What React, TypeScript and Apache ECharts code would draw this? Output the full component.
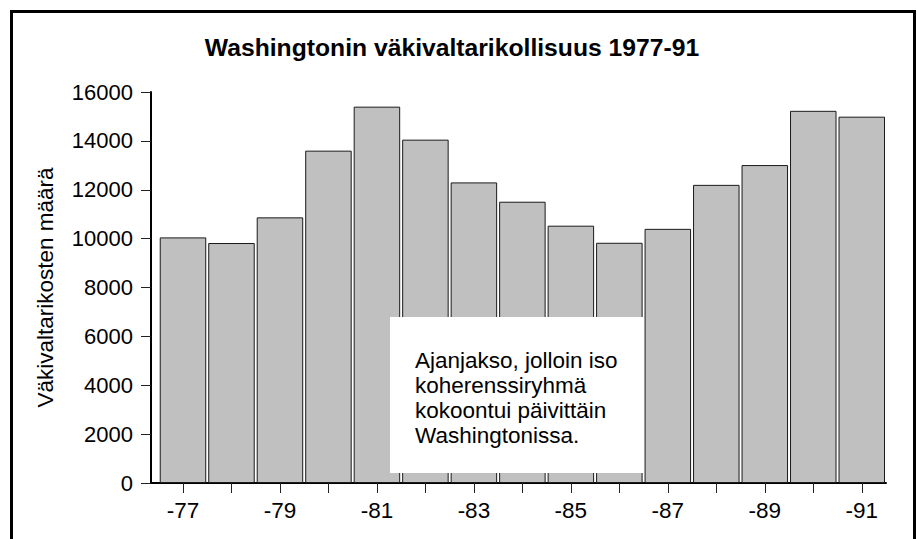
import React, { useEffect, useRef } from "react";
import * as echarts from "echarts";

const years = [1977, 1978, 1979, 1980, 1981, 1982, 1983, 1984, 1985, 1986, 1987, 1988, 1989, 1990, 1991];
const crimes = [10050, 9820, 10870, 13600, 15400, 14050, 12300, 11510, 10530, 9830, 10400, 12200, 13010, 15230, 14990];
const labelYears = [1977, 1979, 1981, 1983, 1985, 1987, 1989, 1991];
const titleText = "Washingtonin väkivaltarikollisuus 1977-91";
const yAxisTitle = "Väkivaltarikosten määrä";
const noteLines = ["Ajanjakso, jolloin iso", "koherenssiryhmä", "kokoontui päivittäin", "Washingtonissa."];

const FONT = "'Liberation Sans', Arial, Helvetica, sans-serif";

export default function App() {
  const ref = useRef<HTMLDivElement>(null);
  useEffect(() => {
    if (!ref.current) return;
    const chart = echarts.init(ref.current, null, { renderer: "svg" });
    chart.setOption({
      animation: false,
      backgroundColor: "#ffffff",
      textStyle: { fontFamily: FONT },
      title: {
        text: titleText,
        left: 447,
        top: 30,
        textAlign: "center",
        textStyle: { fontFamily: FONT, fontSize: 24.7, fontWeight: "bold", color: "#000" },
      },
      grid: { left: 151, top: 92, width: 735, height: 391, containLabel: false },
      xAxis: {
        type: "value",
        min: 1976.34,
        max: 1991.5,
        splitLine: { show: false },
        axisLine: { show: true, onZero: false, lineStyle: { color: "#000", width: 2 } },
        axisTick: { show: true, customValues: years, length: 10, lineStyle: { color: "#222", width: 1 } },
        axisLabel: {
          show: true,
          customValues: labelYears,
          margin: 16,
          fontSize: 22.5,
          fontFamily: FONT,
          color: "#000",
          formatter: (v: number) => "-" + String(Math.round(v)).slice(2),
        },
      },
      yAxis: {
        type: "value",
        min: 0,
        max: 16000,
        interval: 2000,
        name: yAxisTitle,
        nameLocation: "middle",
        nameGap: 94,
        nameTextStyle: { fontSize: 22.5, fontFamily: FONT, color: "#000", padding: [0, 0, 0, 0] },
        splitLine: { show: false },
        axisLine: { show: true, lineStyle: { color: "#000", width: 2 } },
        axisTick: { show: true, length: 10, lineStyle: { color: "#222", width: 1 } },
        axisLabel: {
          margin: 18,
          fontSize: 22,
          fontFamily: FONT,
          color: "#000",
          formatter: (v: number) => String(v),
        },
      },
      series: [
        {
          type: "bar",
          data: years.map((y, i) => [y, crimes[i]]),
          barWidth: 46.5,
          itemStyle: { color: "#c0c0c0", borderColor: "#1a1a1a", borderWidth: 1 },
          z: 2,
        },
      ],
      graphic: [
        {
          type: "rect",
          shape: { x: 11.5, y: 11.5, width: 903, height: 600 },
          style: { fill: "none", stroke: "#000", lineWidth: 3 },
          silent: true,
          z: 100,
        },
        {
          type: "rect",
          shape: { x: 390, y: 317, width: 253, height: 156 },
          style: { fill: "#ffffff" },
          z: 50,
        },
        {
          type: "text",
          x: 415,
          y: 348,
          z: 51,
          style: {
            text: noteLines.join("\n"),
            font: "22.5px " + FONT,
            fill: "#000",
            lineHeight: 25,
            textVerticalAlign: "top",
            verticalAlign: "top",
          },
        },
      ],
    });
    return () => chart.dispose();
  }, []);
  return <div ref={ref} style={{ position: "fixed", left: 0, top: 0, width: 917, height: 539 }} />;
}
